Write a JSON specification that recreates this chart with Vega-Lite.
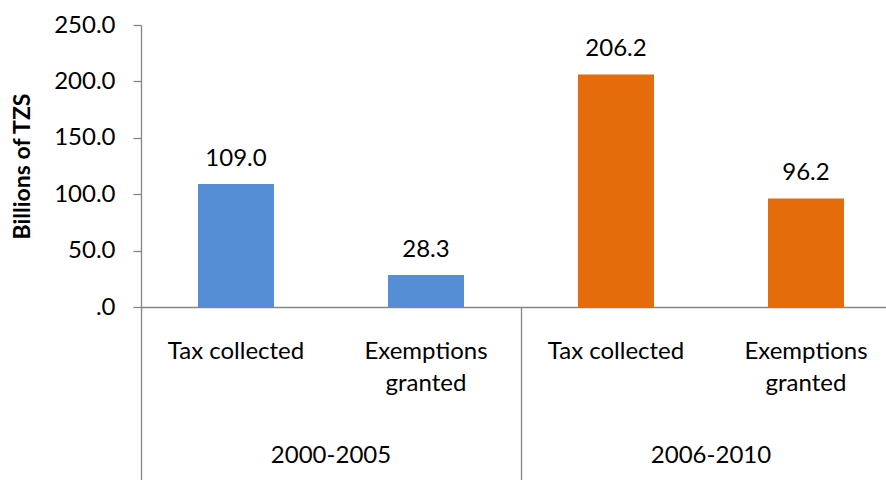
{
  "$schema": "https://vega.github.io/schema/vega-lite/v6.json",
  "width": 745,
  "height": 282,
  "autosize": {"type": "none"},
  "padding": {"left": 141, "top": 25, "right": 0, "bottom": 173},
  "background": "white",
  "config": {
    "view": {"stroke": null},
    "font": "Lato",
    "axis": {"labelFont": "Lato", "titleFont": "Lato", "labelColor": "#000000", "titleColor": "#000000", "grid": false}
  },
  "data": {
    "values": [
      {"period": "2000-2005", "category": "Tax collected", "key": "A1", "value": 109.0},
      {"period": "2000-2005", "category": "Exemptions granted", "key": "A2", "value": 28.3},
      {"period": "2006-2010", "category": "Tax collected", "key": "B1", "value": 206.2},
      {"period": "2006-2010", "category": "Exemptions granted", "key": "B2", "value": 96.2}
    ]
  },
  "resolve": {"axis": {"x": "independent"}},
  "layer": [
    {
      "mark": {"type": "bar"},
      "encoding": {
        "x": {
          "field": "key", "type": "nominal", "sort": ["A1", "A2", "B1", "B2"],
          "scale": {"range": [0, 760], "paddingInner": 0.6, "paddingOuter": 0.3},
          "axis": {
            "orient": "bottom", "title": null, "ticks": false, "tickSize": 0,
            "domain": true, "domainColor": "#868686", "domainWidth": 1.3,
            "labelAngle": 0, "labelFontSize": 24, "labelPadding": 51,
            "labelBaseline": "alphabetic", "labelLineHeight": 32,
            "labelOverlap": false, "labelBound": false, "labelFlush": false, "labelLimit": 0,
            "labelExpr": "indexof(['A2','B2'], datum.value) >= 0 ? ['Exemptions', 'granted'] : 'Tax collected'"
          }
        },
        "y": {
          "field": "value", "type": "quantitative",
          "scale": {"domain": [0, 250], "nice": false},
          "axis": {
            "title": "Billions of TZS", "titleFontSize": 23, "titleFontWeight": "bold", "titlePadding": 19,
            "values": [0, 50, 100, 150, 200, 250],
            "labelExpr": "datum.value == 0 ? '.0' : format(datum.value, '.1f')",
            "labelFontSize": 24, "labelPadding": 18,
            "tickSize": 8, "tickColor": "#868686", "tickWidth": 1.3,
            "domainColor": "#868686", "domainWidth": 1.3
          }
        },
        "color": {
          "field": "period", "type": "nominal",
          "scale": {"domain": ["2000-2005", "2006-2010"], "range": ["#558ED5", "#E46C0A"]},
          "legend": null
        }
      }
    },
    {
      "mark": {"type": "text", "fontSize": 24, "baseline": "alphabetic", "dy": -18, "color": "#000000", "font": "Lato"},
      "encoding": {
        "x": {
          "field": "key", "type": "nominal", "sort": ["A1", "A2", "B1", "B2"],
          "axis": {
            "orient": "bottom", "title": null, "domain": false, "labels": false,
            "ticks": true, "tickSize": 173, "tickColor": "#868686", "tickWidth": 1.3,
            "values": ["A1", "B1"], "tickOffset": -95
          }
        },
        "y": {"field": "value", "type": "quantitative"},
        "text": {"field": "value", "type": "quantitative", "format": ".1f"}
      }
    },
    {
      "mark": {"type": "text", "text": "", "opacity": 0},
      "encoding": {
        "x": {
          "field": "key", "type": "nominal", "sort": ["A1", "A2", "B1", "B2"],
          "axis": {
            "orient": "bottom", "title": null, "domain": false, "ticks": false, "tickSize": 0,
            "values": ["A1", "B1"], "labelOffset": 95, "labelPadding": 148,
            "labelBaseline": "middle", "labelFontSize": 24, "labelAngle": 0,
            "labelOverlap": false, "labelBound": false, "labelFlush": false, "labelLimit": 0,
            "labelExpr": "datum.value == 'A1' ? '2000-2005' : '2006-2010'"
          }
        },
        "y": {"field": "value", "type": "quantitative"}
      }
    }
  ]
}
